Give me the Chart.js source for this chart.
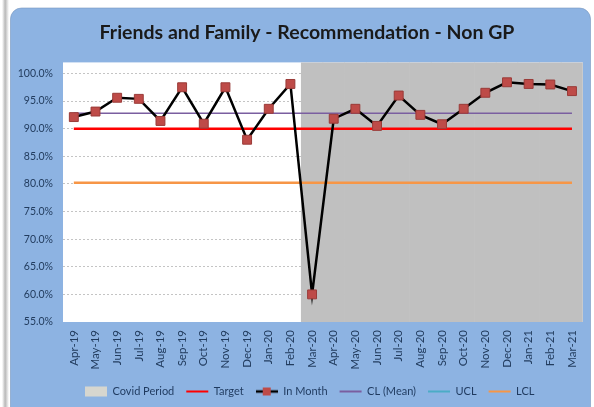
<!DOCTYPE html>
<html><head><meta charset="utf-8">
<script src="https://cdn.jsdelivr.net/npm/chart.js@4/dist/chart.umd.min.js"></script>
<style>html,body{margin:0;padding:0;background:#fff;}#wrap{width:594px;height:407px;position:relative;}</style>
</head><body><div id="wrap"><canvas id="c" width="594" height="407"></canvas></div>
<script>
const months = ['Apr-19','May-19','Jun-19','Jul-19','Aug-19','Sep-19','Oct-19','Nov-19','Dec-19','Jan-20','Feb-20','Mar-20','Apr-20','May-20','Jun-20','Jul-20','Aug-20','Sep-20','Oct-20','Nov-20','Dec-20','Jan-21','Feb-21','Mar-21'];
const inMonth = [92.1,93.1,95.6,95.4,91.4,97.5,90.9,97.5,88.0,93.6,98.1,60.0,91.8,93.6,90.5,96.0,92.5,90.8,93.6,96.5,98.4,98.1,98.0,96.8];
const covid = [null,null,null,null,null,null,null,null,null,null,null,102,102,102,102,102,102,102,102,102,102,102,102,102];
const target = [90,90,90,90,90,90,90,90,90,90,90,90,90,90,90,90,90,90,90,90,90,90,90,90];
const clMean = [92.8,92.8,92.8,92.8,92.8,92.8,92.8,92.8,92.8,92.8,92.8,92.8,92.8,92.8,92.8,92.8,92.8,92.8,92.8,92.8,92.8,92.8,92.8,92.8];
const ucl = [null,null,null,null,null,null,null,null,null,null,null,null,null,null,null,null,null,null,null,null,null,null,null,null];
const lcl = [80.2,80.2,80.2,80.2,80.2,80.2,80.2,80.2,80.2,80.2,80.2,80.2,80.2,80.2,80.2,80.2,80.2,80.2,80.2,80.2,80.2,80.2,80.2,80.2];
const yTicks = [55,60,65,70,75,80,85,90,95,100];

const FONT = 'Lato, "Open Sans", sans-serif';
const LABEL_COLOR = '#223c5e';

// legend image for In Month
const lgImg = document.createElement('canvas');
lgImg.width = 22; lgImg.height = 10;
(function(){const g = lgImg.getContext('2d');
 g.strokeStyle = '#000'; g.lineWidth = 2.5; g.beginPath(); g.moveTo(0,5); g.lineTo(22,5); g.stroke();
 g.fillStyle = '#be4b48'; g.fillRect(7,1,8,8);})();

const bgPlugin = {
  id: 'bg',
  beforeDraw(chart){
    const ctx = chart.ctx; ctx.save();
    ctx.fillStyle = '#fff'; ctx.fillRect(0,0,594,407);
    const g = ctx.createLinearGradient(2,0,9,0);
    g.addColorStop(0,'#ffffff'); g.addColorStop(0.45,'#b8b8b8'); g.addColorStop(0.7,'#d8d8d8'); g.addColorStop(1,'#ffffff');
    ctx.fillStyle = g; ctx.fillRect(2,0,8,407);
    ctx.fillStyle = '#8db3e2';
    ctx.beginPath(); ctx.roundRect(10.5,8,580,430,11); ctx.fill();
    ctx.strokeStyle = 'rgba(120,150,190,0.6)'; ctx.lineWidth = 1; ctx.stroke();
    const a = chart.chartArea;
    ctx.fillStyle = '#fff'; ctx.fillRect(a.left, a.top, a.right-a.left, a.bottom-a.top);
    ctx.restore();
  },
  afterLayout(chart){
    const lg = chart.legend;
    if (lg) { const shift = lg.left + 12 - 85; lg.left -= shift; lg.right -= shift; lg.top += 2; lg.bottom += 2; }
    const t = chart.titleBlock;
    if (t) { t.left += 8; t.right += 8; }
  }
};

const order = {'Covid Period':0,'Target':1,'In Month':2,'CL (Mean)':3,'UCL':4,'LCL':5};

new Chart(document.getElementById('c'), {
  data: {
    labels: months,
    datasets: [
      {type:'line', label:'In Month', data: inMonth, borderColor:'#000', backgroundColor:'#be4b48', borderWidth:2.5, tension:0,
       pointStyle:'rect', pointRadius:6.3, pointBackgroundColor:'#be4b48', pointBorderColor:'#9a3b38', pointBorderWidth:1, order:0, legendStyle: lgImg},
      {type:'line', label:'Target', data: target, borderColor:'#ff0000', backgroundColor:'#ff0000', borderWidth:2.5, pointRadius:0, order:2, legendStyle:'line'},
      {type:'line', label:'CL (Mean)', data: clMean, borderColor:'#7a5ea0', backgroundColor:'#7a5ea0', borderWidth:1.5, pointRadius:0, order:1, legendStyle:'line'},
      {type:'line', label:'UCL', data: ucl, borderColor:'#4bacc6', backgroundColor:'#4bacc6', borderWidth:2, pointRadius:0, order:3, legendStyle:'line'},
      {type:'line', label:'LCL', data: lcl, borderColor:'#f79646', backgroundColor:'#f79646', borderWidth:2.5, pointRadius:0, order:4, legendStyle:'line'},
      {type:'bar', label:'Covid Period', data: covid, backgroundColor:'#c0c0c0', borderWidth:0, barPercentage:1, categoryPercentage:1, order:10, legendStyle:'rect', legendFill:'#d6d6cf'}
    ]
  },
  options: {
    responsive:false, animation:false,
    layout:{padding:{top:9,left:15,right:11,bottom:2}},
    plugins:{
      title:{display:true, text:'Friends and Family - Recommendation - Non GP', color:'#1a1a1a',
        font:{family:FONT, size:19.5, weight:'bold'}, padding:{top:12,bottom:18}},
      legend:{display:true, position:'bottom', align:'start',
        labels:{usePointStyle:true, pointStyleWidth:22, boxHeight:10, padding:12, color:'#1f3a5f',
          font:{family:FONT, size:11},
          sort:(a,b)=>order[a.text]-order[b.text],
          generateLabels(chart){
            const items = Chart.defaults.plugins.legend.labels.generateLabels(chart);
            items.forEach(it=>{ const ds = chart.data.datasets[it.datasetIndex];
              it.pointStyle = ds.legendStyle;
              if (ds.legendStyle === 'line') { it.strokeStyle = ds.borderColor; it.lineWidth = 2; }
              if (ds.legendStyle === 'rect') { it.fillStyle = ds.legendFill; it.strokeStyle = ds.legendFill; it.lineWidth = 0; }
            });
            return items;
          }}},
      tooltip:{enabled:false}
    },
    scales:{
      x:{type:'category', offset:true, grid:{display:false, drawTicks:false}, border:{display:false},
        ticks:{minRotation:90, maxRotation:90, autoSkip:false, padding:8, color:LABEL_COLOR, font:{family:FONT, size:11.5}},
        afterFit(s){ s.height = 50; }},
      y:{min:55, max:102, border:{display:false, dash:[2,2]},
        grid:{drawTicks:false, color:(c)=> yTicks.includes(c.tick.value) && c.tick.value!==55 ? '#c4c4c4' : 'rgba(0,0,0,0)', lineWidth:1, borderDash:[2,2], tickBorderDash:[2,2]},
        afterBuildTicks(s){ s.ticks = yTicks.concat([102]).map(v=>({value:v})); },
        ticks:{padding:10, color:LABEL_COLOR, font:{family:FONT, size:10.5},
          callback:(v)=> yTicks.includes(v) ? v.toFixed(1)+'%' : ''},
        afterFit(s){ s.width = 48; }}
    }
  },
  plugins:[bgPlugin]
});
</script></body></html>
